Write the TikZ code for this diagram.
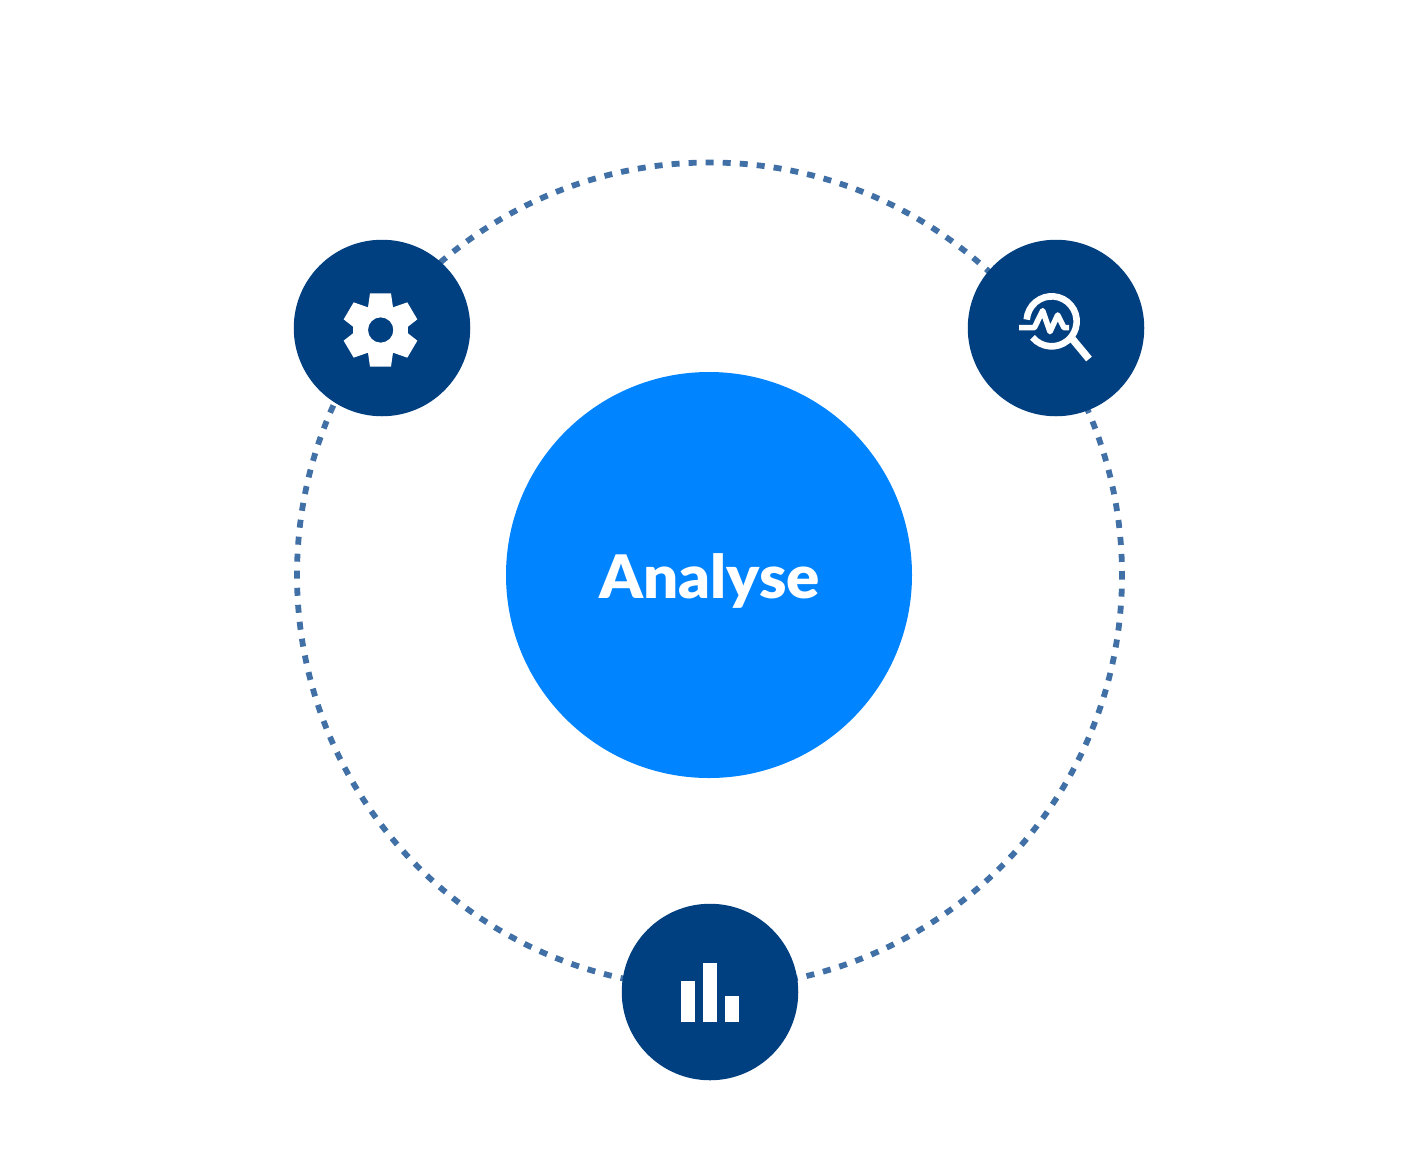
\documentclass[tikz,border=0pt]{standalone}
\usepackage{fontspec}
\newfontfamily\hubfont{Lato Black}[FakeStretch=1.03]
\definecolor{navy}{HTML}{003F80}
\definecolor{brightblue}{HTML}{0084FF}
\definecolor{ringblue}{HTML}{4070A5}
\tikzset{
  dot ring/.style={circle,draw=ringblue,line width=5.8pt,minimum size=825pt,inner sep=0pt,dash pattern=on 8pt off 9.05pt,dash phase=4pt},
  hub/.style={circle,fill=brightblue,minimum size=406pt,inner sep=0pt},
  hub text/.style={text=white,inner sep=0pt,font=\hubfont\fontsize{60pt}{60pt}\selectfont},
  badge/.style={circle,fill=navy,minimum size=176.5pt,inner sep=0pt},
  icon fill/.style={fill=white,draw=none},
  icon line/.style={draw=white,line width=6.6pt,fill=none}
}
\begin{document}
\begin{tikzpicture}[x=1pt,y=-1pt]
\useasboundingbox (0,0) rectangle (1420,1152);
\fill[white] (0,0) rectangle (1420,1152);
\node[dot ring] (ring) at (709.5,575) {};
\node[hub] (hub) at (709,575) {};
\node[hub text,anchor=base] (label) at (709.5,598) {Analyse};
\node[badge] (gear) at (382,328) {};
\node[badge] (scan) at (1056,328) {};
\node[badge] (chart) at (710,992) {};
% gear icon
\begin{scope}[shift={(330,280)},x=0.3333pt,y=-0.3333pt]
\fill[icon fill,even odd rule]
  (120,40)--(183,40)--(189,82)--(232,67)--(262,118)--(234,140)--(234,160)--(262,182)--(232,233)--(189,218)--(183,260)--(120,260)--(114,218)--(71,233)--(41,182)--(69,160)--(69,140)--(41,118)--(71,67)--(114,82)--cycle
  (190,150) arc[start angle=0,end angle=360,radius=38];
\end{scope}
% magnifier icon
\begin{scope}[shift={(1005,280)},x=0.3333pt,y=-0.3333pt]
\draw[icon line] (140,124) ++(140:75) arc[start angle=140,end angle=-176,radius=75];
\draw[icon line,line width=5.6pt,line join=round] (42,143)--(88,143)--(113,92)--(135,155)--(158,105)--(177,143)--(192,143);
\draw[icon line,line width=7.4pt] (203,178)--(252,237);
\end{scope}
% bars icon
\fill[icon fill] (680.5,981) rectangle (695,1022);
\fill[icon fill] (702.5,963) rectangle (717,1022);
\fill[icon fill] (724.5,996) rectangle (739,1022);
\end{tikzpicture}
\end{document}
